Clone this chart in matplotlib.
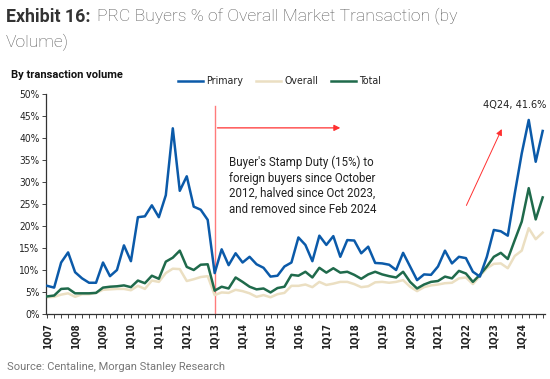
import numpy as np
import matplotlib.pyplot as plt
from matplotlib.ticker import MultipleLocator, FixedLocator

# quarterly series, 1Q07 .. 4Q24 (%)
primary = [6.4, 6.0, 11.7, 14.0, 9.5, 8.1, 7.1, 7.1, 11.7, 8.6, 10.0, 15.6,
           12.0, 22.0, 22.2, 24.7, 22.0, 27.0, 42.2, 28.0, 31.3, 24.4, 23.7, 21.4,
           9.3, 14.7, 11.1, 13.8, 11.7, 13.0, 11.3, 10.5, 8.5, 8.7, 10.8, 11.7,
           17.4, 15.7, 12.0, 17.8, 15.7, 17.7, 13.0, 16.8, 16.7, 13.8, 15.3, 11.6,
           11.5, 11.2, 10.0, 13.9, 10.8, 7.7, 9.0, 8.9, 10.8, 14.4, 11.5, 13.0,
           12.7, 9.6, 8.5, 13.0, 19.1, 18.8, 17.8, 27.4, 36.5, 44.1, 34.6, 41.6]
overall = [3.8, 3.9, 4.4, 4.7, 3.9, 4.5, 4.5, 4.8, 5.5, 5.6, 5.7, 5.7,
           5.4, 6.4, 5.7, 7.6, 7.3, 9.3, 10.3, 10.2, 7.5, 7.9, 8.4, 8.6,
           4.3, 4.9, 4.8, 5.5, 5.2, 4.7, 3.9, 4.3, 3.8, 4.5, 4.8, 6.4,
           6.4, 6.7, 6.1, 7.3, 6.6, 6.9, 7.3, 7.3, 6.8, 6.1, 6.3, 7.2,
           7.3, 7.1, 7.3, 7.7, 6.2, 5.2, 6.1, 6.5, 6.7, 7.0, 7.1, 8.1,
           8.3, 6.8, 8.6, 10.4, 11.4, 11.5, 10.4, 13.2, 14.4, 19.5, 17.0, 18.5]
total = [4.0, 4.2, 5.7, 5.8, 4.7, 4.7, 4.7, 4.8, 6.0, 6.2, 6.3, 6.5,
         6.1, 7.6, 7.0, 8.7, 8.0, 11.9, 12.8, 14.4, 10.7, 10.0, 11.2, 11.3,
         5.3, 6.2, 5.8, 8.3, 7.3, 6.2, 5.6, 5.8, 4.9, 5.9, 6.2, 8.9,
         8.7, 9.6, 8.3, 10.5, 9.4, 10.4, 9.4, 9.6, 8.9, 8.0, 9.0, 9.6,
         9.0, 8.6, 8.3, 9.6, 7.3, 5.8, 6.7, 7.3, 7.5, 8.5, 8.1, 9.8,
         9.2, 7.3, 8.9, 10.8, 13.0, 13.9, 12.5, 16.8, 21.0, 28.6, 21.5, 26.5]

years = list(range(2007, 2025))
quarters = [f"{q}Q{y % 100:02d}" for y in years for q in range(1, 5)]
year_labels = [f"1Q{y % 100:02d}" for y in years]

c_primary = '#0b5aa9'
c_overall = '#ebdfc2'
c_total = '#1f6a4b'
cond = ['Liberation Sans Narrow', 'DejaVu Sans']
rob = ['Roboto', 'DejaVu Sans']

fig = plt.figure(figsize=(5.5, 3.79), dpi=100)
ax = fig.add_axes([0.0845, 0.1715, 0.906, 0.5805])

x = np.arange(len(quarters))
ax.plot(x, overall, color=c_overall, lw=1.8, label='Overall', zorder=2)
ax.plot(x, total, color=c_total, lw=1.8, label='Total', zorder=3)
ax.plot(x, primary, color=c_primary, lw=1.8, label='Primary', zorder=4)

ax.set_xlim(-0.1, 71.3)
ax.set_ylim(0, 50)
ax.yaxis.set_major_locator(MultipleLocator(5))
ax.set_yticklabels([f"{int(v)}%" for v in ax.get_yticks()], family=cond,
                   fontsize=7.3, color='#222222', fontstretch='condensed')
ax.xaxis.set_major_locator(FixedLocator([quarters.index(l) for l in year_labels]))
ax.xaxis.set_minor_locator(MultipleLocator(1))
ax.set_xticklabels(year_labels, rotation=90, family=cond, fontsize=7,
                   color='#222222', fontweight='bold', fontstretch='condensed')
ax.tick_params(axis='x', which='both', length=3, width=0.7, color='#444444')
ax.tick_params(axis='y', length=3, width=0.7, color='#444444', pad=2)
for s in ['top', 'right']:
    ax.spines[s].set_visible(False)
for s in ['left', 'bottom']:
    ax.spines[s].set_color('#333333')
    ax.spines[s].set_linewidth(0.9)

# stamp duty annotations
i13 = quarters.index('1Q13')
ax.plot([i13, i13], [0, 47.3], color='#ff7b7b', lw=1.0, zorder=1)
ax.annotate('', xy=(42.4, 42.3), xytext=(i13, 42.3),
            arrowprops=dict(arrowstyle='-|>', color='#ff3030', lw=0.9,
                            mutation_scale=9))
ax.text(26.0, 36.0, "Buyer's Stamp Duty (15%) to\nforeign buyers since October\n"
        "2012, halved since Oct 2023,\nand removed since Feb 2024",
        fontsize=8.3, color='#222222', va='top', ha='left', linespacing=1.25,
        family=rob)
ax.annotate('', xy=(65.3, 42.6), xytext=(59.9, 24.1),
            arrowprops=dict(arrowstyle='-|>', color='#ff3030', lw=0.7,
                            mutation_scale=9))
ax.text(71.5, 47.5, f"4Q24, {primary[-1]}%", fontsize=7.8, ha='right',
        va='center', color='#222222', family=cond, fontstretch='condensed')

leg = ax.legend(handles=[ax.lines[2], ax.lines[0], ax.lines[1]],
                loc='lower left', bbox_to_anchor=(0.255, 1.015), ncol=3,
                frameon=False, fontsize=7.6, handlelength=2.4,
                handletextpad=0.3, columnspacing=1.2, borderaxespad=0)
for t in leg.get_texts():
    t.set_family(cond)
    t.set_fontstretch('condensed')
    t.set_color('#222222')

fig.text(0.011, 0.956, "Exhibit 16:", fontsize=12.8, fontweight='bold',
         color='#333333', va='center', family=rob)
fig.text(0.176, 0.956, "PRC Buyers % of Overall Market Transaction (by",
         fontsize=12.6, fontweight='light', color='#555555', va='center',
         family=rob)
fig.text(0.011, 0.888, "Volume)", fontsize=12.6, fontweight='light',
         color='#555555', va='center', family=rob)
fig.text(0.02, 0.802, "By transaction volume", fontsize=8, fontweight='bold',
         color='#111111', va='center', family=rob)
fig.text(0.012, 0.032, "Source: Centaline, Morgan Stanley Research", fontsize=8,
         color='#777777', va='center', family=rob)

fig.savefig('out.png', dpi=100)
